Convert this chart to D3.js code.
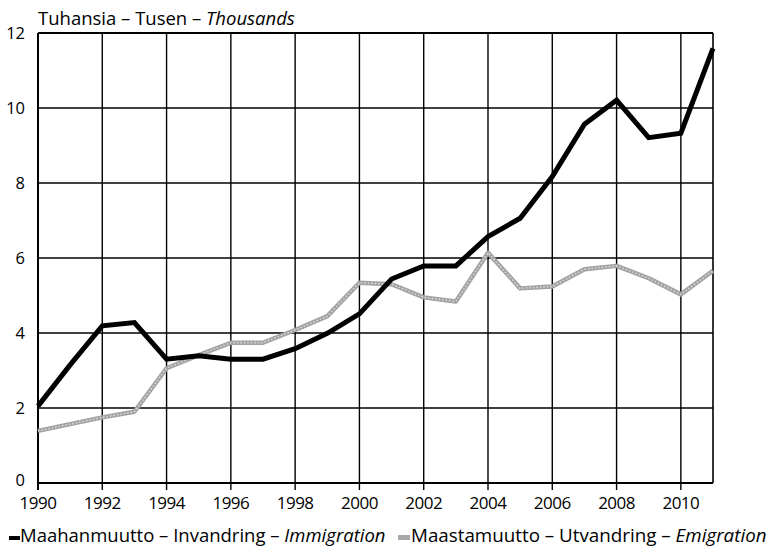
<!DOCTYPE html>
<html><head><meta charset="utf-8">
<script src="https://cdn.jsdelivr.net/npm/d3@7"></script>
<style>body{margin:0;background:#fff}svg{display:block}text{font-family:"Open Sans",sans-serif;fill:#000}</style>
</head><body><svg id="c" width="774" height="549"></svg>
<script>
const years = d3.range(1990, 2012);
const immigration = [2.05,3.15,4.19,4.28,3.30,3.39,3.30,3.30,3.58,3.99,4.51,5.44,5.79,5.79,6.57,7.06,8.17,9.57,10.21,9.21,9.33,11.59];
const emigration = [1.39,1.57,1.75,1.90,3.06,3.41,3.74,3.74,4.08,4.45,5.34,5.30,4.95,4.84,6.14,5.19,5.24,5.70,5.79,5.46,5.03,5.66];
const xTicks = [1990,1992,1994,1996,1998,2000,2002,2004,2006,2008,2010];
const yTicks = [0,2,4,6,8,10,12];
const unitLabel = ["Tuhansia – Tusen – ", "Thousands"];
const legendLabels = [["Maahanmuutto – Invandring – ","Immigration"],["Maastamuutto – Utvandring – ","Emigration"]];

const svg = d3.select("#c");
const L=38,R=713,T=33,B=483;
const x = d3.scaleLinear().domain([1990,2011]).range([L,R]);
const y = d3.scaleLinear().domain([0,12]).range([B,T]);

// grid
const g = svg.append("g");
g.selectAll("line.v").data(xTicks).join("line")
  .attr("x1",d=>x(d)).attr("x2",d=>x(d)).attr("y1",T).attr("y2",B+7)
  .attr("stroke","#000").attr("stroke-width",1.4);
g.selectAll("line.h").data(yTicks).join("line")
  .attr("x1",L).attr("x2",R).attr("y1",d=>y(d)).attr("y2",d=>y(d))
  .attr("stroke","#000").attr("stroke-width",d=>d===0||d===12?2:1.4);
g.append("line").attr("x1",R).attr("x2",R).attr("y1",T).attr("y2",B).attr("stroke","#000").attr("stroke-width",1.6);
g.append("line").attr("x1",L).attr("x2",L).attr("y1",T).attr("y2",B+7).attr("stroke","#000").attr("stroke-width",2);

// axes labels
svg.selectAll("text.yt").data(yTicks).join("text")
  .attr("x",25).attr("y",d=>y(d)+(d===0?3:6)).attr("text-anchor","end")
  .attr("font-size",16.5).text(d=>d);
svg.selectAll("text.xt").data(xTicks).join("text")
  .attr("x",d=>x(d)).attr("y",509).attr("text-anchor","middle")
  .attr("font-size",17).attr("letter-spacing",-0.5).text(d=>d);
const ut = svg.append("text").attr("x",38).attr("y",25).attr("font-size",18.5);
ut.append("tspan").text(unitLabel[0]);
ut.append("tspan").attr("font-style","italic").text(unitLabel[1]);

// lines
const line = d3.line().x((d,i)=>x(years[i])).y(d=>y(d));
svg.append("path").datum(emigration).attr("d",line).attr("fill","none")
  .attr("stroke","#a3a3a3").attr("stroke-width",4.5).attr("stroke-linejoin","round");
svg.append("path").datum(emigration).attr("d",line).attr("fill","none")
  .attr("stroke","#dcdcdc").attr("stroke-width",1.5).attr("stroke-dasharray","1.5,2");
svg.append("path").datum(immigration).attr("d",line).attr("fill","none")
  .attr("stroke","#000").attr("stroke-width",5).attr("stroke-linejoin","miter");

// legend
svg.append("rect").attr("x",9).attr("y",536).attr("width",11).attr("height",4).attr("fill","#000");
const l1 = svg.append("text").attr("x",20).attr("y",542).attr("font-size",18.5);
l1.append("tspan").text(legendLabels[0][0]);
l1.append("tspan").attr("font-style","italic").text(legendLabels[0][1]);
svg.append("rect").attr("x",398).attr("y",535).attr("width",12).attr("height",5).attr("fill","#a8a8a8");
const l2 = svg.append("text").attr("x",411).attr("y",542).attr("font-size",18.8);
l2.append("tspan").text(legendLabels[1][0]);
l2.append("tspan").attr("font-style","italic").text(legendLabels[1][1]);
</script></body></html>
